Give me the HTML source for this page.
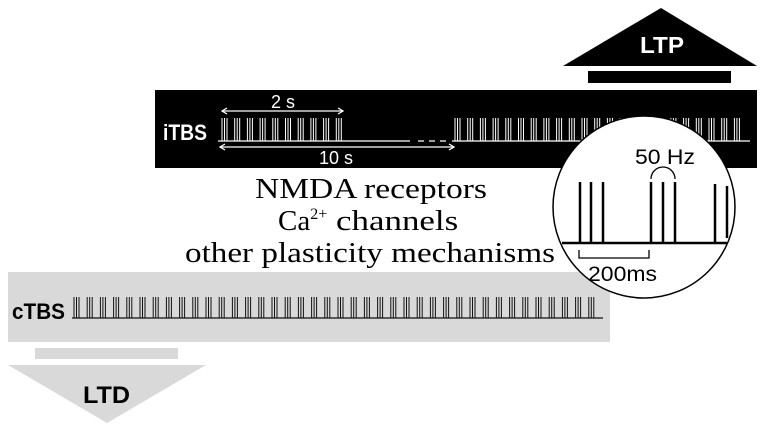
<!DOCTYPE html>
<html><head><style>
html,body{margin:0;padding:0;background:#fff;width:764px;height:434px;overflow:hidden}
</style></head><body>
<svg id="s" width="764" height="434" viewBox="0 0 764 434" xmlns="http://www.w3.org/2000/svg">
<polygon points="661,8 563,66 757,66" fill="#000"/>
<text x="640" y="53" textLength="44" lengthAdjust="spacingAndGlyphs" font-family="Liberation Sans, sans-serif" font-weight="bold" font-size="23" fill="#fff">LTP</text>
<rect x="588" y="71" width="143" height="12" fill="#000"/>
<rect x="155" y="90" width="602" height="78" fill="#000"/>
<text x="163" y="140" textLength="44" lengthAdjust="spacingAndGlyphs" font-family="Liberation Sans, sans-serif" font-weight="bold" font-size="22" fill="#fff">iTBS</text>
<g id="itbs" stroke="#fff" stroke-width="1"></g>
<line x1="218" y1="141" x2="410" y2="141" stroke="#fff" stroke-width="1.3"/>
<line x1="418" y1="141" x2="448" y2="141" stroke="#fff" stroke-width="1.3" stroke-dasharray="6,5"/>
<line x1="452" y1="141" x2="750" y2="141" stroke="#fff" stroke-width="1.3"/>
<g stroke="#fff" stroke-width="1.3" fill="none">
<line x1="222" y1="111" x2="343" y2="111"/><polyline points="227,108 222,111 227,114"/><polyline points="338,108 343,111 338,114"/>
<line x1="220" y1="147" x2="454" y2="147"/><polyline points="225,144 220,147 225,150"/><polyline points="449,144 454,147 449,150"/>
</g>
<text x="283" y="108" font-family="Liberation Sans, sans-serif" font-size="18" fill="#fff" text-anchor="middle">2 s</text>
<text x="336" y="164" font-family="Liberation Sans, sans-serif" font-size="18" fill="#fff" text-anchor="middle">10 s</text>
<g font-family="Liberation Serif, serif" font-size="29" fill="#000">
<text x="255" y="198" textLength="232" lengthAdjust="spacingAndGlyphs">NMDA receptors</text>
<text x="278" y="230">Ca<tspan font-size="16" dy="-11">2+</tspan><tspan dy="11" textLength="131" lengthAdjust="spacingAndGlyphs"> channels</tspan></text>
<text x="185" y="262" textLength="370" lengthAdjust="spacingAndGlyphs">other plasticity mechanisms</text>
</g>
<rect x="8" y="272" width="602" height="70" fill="#d9d9d9"/>
<text x="12" y="319" textLength="53" lengthAdjust="spacingAndGlyphs" font-family="Liberation Sans, sans-serif" font-weight="bold" font-size="22" fill="#000">cTBS</text>
<g id="ctbs" stroke="#111" stroke-width="1"></g>
<line x1="72" y1="318" x2="603" y2="318" stroke="#111" stroke-width="1.3"/>
<rect x="35" y="348" width="143" height="11" fill="#d9d9d9"/>
<polygon points="8,365 206,365 107,423" fill="#d9d9d9"/>
<text x="83" y="403" textLength="47" lengthAdjust="spacingAndGlyphs" font-family="Liberation Sans, sans-serif" font-weight="bold" font-size="24" fill="#000">LTD</text>
<circle cx="644" cy="207" r="91" fill="#fff" stroke="#000" stroke-width="1.5"/>
<g stroke="#000" stroke-width="2.5">
<line x1="562" y1="243" x2="727" y2="243"/>
<line x1="580" y1="182" x2="580" y2="243"/><line x1="591" y1="182" x2="591" y2="243"/><line x1="603" y1="182" x2="603" y2="243"/>
<line x1="651" y1="182" x2="651" y2="243"/><line x1="663" y1="182" x2="663" y2="243"/><line x1="675" y1="182" x2="675" y2="243"/>
<line x1="715" y1="184" x2="715" y2="243"/><line x1="727" y1="186" x2="727" y2="238"/>
</g>
<path d="M651,179 A12,12 0 0 1 675,179" fill="none" stroke="#000" stroke-width="1.3"/>
<polyline points="579,250 579,258 649,258 649,250" fill="none" stroke="#000" stroke-width="1.3"/>
<text x="635" y="164" textLength="60" lengthAdjust="spacingAndGlyphs" font-family="Liberation Sans, sans-serif" font-size="21" fill="#000">50 Hz</text>
<text x="588" y="281" textLength="69" lengthAdjust="spacingAndGlyphs" font-family="Liberation Sans, sans-serif" font-size="21" fill="#000">200ms</text>
</svg>
<script>
var NS="http://www.w3.org/2000/svg";
function burst(g,x,y1,y2){for(var k=0;k<3;k++){var l=document.createElementNS(NS,"line");l.setAttribute("x1",x+k*2.5);l.setAttribute("x2",x+k*2.5);l.setAttribute("y1",y1);l.setAttribute("y2",y2);g.appendChild(l);}}
var g=document.getElementById("itbs");
for(var i=0;i<10;i++)burst(g,222+i*12.7,118,141);
for(var i=0;i<23;i++){var x=455+i*12.7;if(x<745)burst(g,x,118,141);}
var c=document.getElementById("ctbs");
for(var i=0;i<40;i++)burst(c,74+i*13.2,297,318);
</script>
</body></html>
